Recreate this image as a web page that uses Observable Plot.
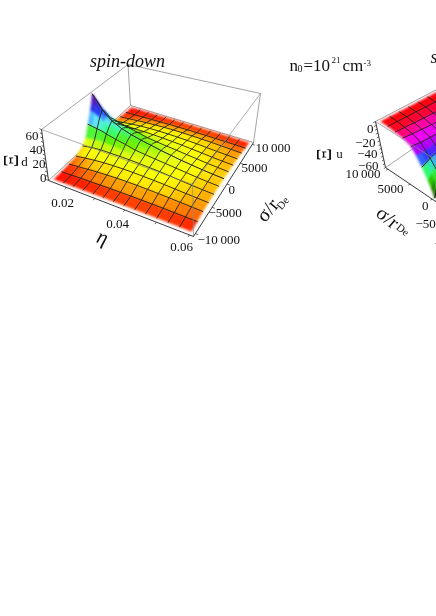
<!DOCTYPE html>
<html><head><meta charset="utf-8">
<style>html,body{margin:0;padding:0;background:#fff;overflow:hidden}svg{display:block}</style>
<script src="https://cdn.jsdelivr.net/npm/d3@7"></script>
<script src="https://cdn.jsdelivr.net/npm/@observablehq/plot@0.6"></script>
</head><body><div id="c"></div>
<script>
// Grid positions on which the surfaces are read: mesh index along eta (0-13), and |sigma| index from centre (0-6)
const etaPos = [0,.5,1,1.5,2,3,4,5,6,7,8,9,10,11,12,13];
const sigPos = [0,.25,.5,1,1.5,2,3,4,5,6];
const etaCells = 13, sigCells = 12;
// Xi_d (spin-down); one row per etaPos, one column per sigPos
const xiDown = [
[60,50,42,28,14,8,3.2,1.6,.55,.3],
[52,46,40,27,15,9,4,2,.7,.35],
[43,40,36,26,16,10,4.8,2.6,.9,.4],
[37,35,32,25,16.5,10.5,5.5,3,1.1,.5],
[32,31,28.5,23,16,11,6.2,3.6,1.3,.55],
[26,25,23.5,20,15,11,7.2,4.5,1.6,.65],
[22,21.5,20.5,17.5,14,11,7.8,5.1,1.9,.8],
[19,18.5,17.5,14.5,12.5,10.8,8,5.6,2.2,.9],
[16.5,16.2,15.5,13,11.5,10.3,8,5.8,2.3,1],
[14,13.8,13.2,11.6,10.6,9.7,7.7,5.8,2.4,1],
[12,11.9,11.5,10.4,9.7,9,7.3,5.6,2.4,1],
[10,9.9,9.7,9,8.5,8,6.8,5.3,2.4,1],
[8.5,8.4,8.3,7.8,7.4,7,6,4.9,2.3,1],
[7,6.9,6.8,6.5,6.2,5.9,5.2,4.3,2.1,.9],
[5.9,5.8,5.8,5.6,5.4,5.1,4.6,3.8,1.9,.8],
[5,4.9,4.9,4.7,4.6,4.4,3.9,3.2,1.6,.7]
];
// Xi_u (spin-up)
const xiUp = [
[-60,-50,-42,-28,-17,-8.5,-3.8,-2,-.6,-.2],
[-48,-43,-37,-26,-17,-9,-4.2,-2.2,-.6,-.2],
[-38,-35,-31,-23,-16.5,-9.5,-4.6,-2.4,-.7,-.2],
[-32,-30,-27,-21,-16,-9.5,-4.9,-2.6,-.7,-.2],
[-27,-25.5,-24,-19,-14,-9.5,-5.2,-2.8,-.8,-.3],
[-20,-19.5,-18.5,-15,-12.5,-9,-5.5,-3,-.8,-.3],
[-16,-15.7,-15,-12.5,-11.5,-8.5,-5.5,-3.2,-.9,-.3],
[-13,-12.8,-12.4,-11,-10.5,-8,-5.5,-3.3,-.9,-.3],
[-11,-10.8,-10.4,-9.5,-9.5,-7.5,-5.3,-3.4,-1,-.4],
[-9.5,-9.4,-9.2,-8.5,-8.9,-7,-5.1,-3.4,-1,-.4],
[-8.4,-8.3,-8.2,-7.7,-8.3,-6.5,-4.9,-3.4,-1,-.4],
[-7.5,-7.4,-7.3,-7,-7.8,-6,-4.7,-3.3,-1,-.4],
[-6.8,-6.7,-6.6,-6.3,-7.2,-5.6,-4.5,-3.2,-1,-.4],
[-6.2,-6.1,-6,-5.8,-6.8,-5.2,-4.2,-3.1,-1,-.4],
[-5.7,-5.6,-5.6,-5.4,-6.4,-4.9,-4,-3,-1,-.4],
[-5.3,-5.2,-5.2,-5,-6,-4.6,-3.8,-2.9,-1,-.4]
];
const colorStops = [-60,-50,-40,-32,-26,-20,-14,-7,-4,-1.5,0,1,2,3.5,5.5,7.5,12,18,26,32,40,50,60];
const colorRange = ["#502000","#208000","#30e000","#30ff80","#30c0ff","#3030ff","#a000ff","#f000f0","#ff00a0","#ff0020","#ff0000","#ff2000","#ff5000","#ff9000","#ffd000","#ffff00","#e0ff10","#60f000","#30ff90","#60e8ff","#2040ff","#4020c0","#a00090"];
// eta / sigma / Xi ticks
const etaMin = 0.0135, etaMax = 0.0612;
const etaMajor = [.02,.03,.04,.05,.06];
const sigmaMajor = [-10000,-5000,0,5000,10000];
const zMajor = [0,20,40,60];
const zMinor = [5,10,15,25,30,35,45,50,55];
const zMajorUp = [0,-20,-40,-60];
const zMinorUp = [-5,-10,-15,-25,-30,-35,-45,-50,-55];

// Box corners in the picture plane: eta-lo/sigma-lo, eta-hi/sigma-lo, eta-hi/sigma-hi, eta-lo/sigma-hi
const boxDown = {bottom:[[48,180],[193,236],[253,142],[130,105]], top:[[41,129],[192,184],[260,93],[127.5,64]], zLo:0, zHi:60};
const boxUp = {bottom:[[478,230],[620,165],[505,85],[385,167]], top:[[472,183],[625,110],[507,52],[375,121]], zLo:-60, zHi:0};

function homography(q){
  const [[x0,y0],[x1,y1],[x2,y2],[x3,y3]] = q;
  const dx1=x1-x2,dx2=x3-x2,sx=x0-x1+x2-x3,dy1=y1-y2,dy2=y3-y2,sy=y0-y1+y2-y3;
  const den=dx1*dy2-dx2*dy1, g=(sx*dy2-dx2*sy)/den, h=(dx1*sy-sx*dy1)/den;
  const a=x1-x0+g*x1,b=x3-x0+h*x3,d=y1-y0+g*y1,e=y3-y0+h*y3;
  return (u,v)=>{const w=g*u+h*v+1;return [(a*u+b*v+x0)/w,(d*u+e*v+y0)/w];};
}
function projector(box){
  const B=homography(box.bottom),T=homography(box.top);
  return (u,v,w)=>{const p=B(u,v),q=T(u,v);return [p[0]+(q[0]-p[0])*w,p[1]+(q[1]-p[1])*w];};
}
const pad=.025;
function buildSurface(table,box,etaDesc){
  const P=projector(box);
  const mid=sigCells/2;
  const sigIdx=[...sigPos.slice(1).reverse().map(d=>[mid-d,sigPos.indexOf(d)]),...sigPos.map((d,k)=>[mid+d,k])];
  const node=(i,s)=>{
    const z=table[i][sigIdx[s][1]];
    const u=pad+(1-2*pad)*etaPos[i]/etaCells, v=pad+(1-2*pad)*sigIdx[s][0]/sigCells, w=(z-box.zLo)/(box.zHi-box.zLo);
    const [x,y]=P(u,v,w); return {x,y,z};
  };
  const centre=sigPos.length-1;
  const cells=[[],[]], lines=[[],[]];
  let id=0;
  const rows=d3.range(etaPos.length-1); if(etaDesc) rows.reverse();
  [[centre,sigIdx.length-1,0],[0,centre,1]].forEach(([s0,s1,layer])=>{
    for(const i of rows) for(let s=s1-1;s>=s0;s--){
      const q=[node(i,s),node(i+1,s),node(i+1,s+1),node(i,s+1)];
      const val=d3.mean(q,p=>p.z); id++;
      q.forEach(p=>cells[layer].push({x:p.x,y:p.y,id,val}));
    }
    etaPos.forEach((e,i)=>{ if(Number.isInteger(e)&&e>0&&e<etaCells){ id++; for(let s=s0;s<=s1;s++){const n=node(i,s);lines[layer].push({x:n.x,y:n.y,id});}}});
    for(let s=s0;s<=s1;s++){const j=sigIdx[s][0]; if(Number.isInteger(j)&&j>0&&j<sigCells){ id++; etaPos.forEach((e,i)=>{const n=node(i,s);lines[layer].push({x:n.x,y:n.y,id});});}}
  });
  return {cells,lines};
}
const edge=(box,a,b)=>{const c=(k)=>k<4?box.bottom[k]:box.top[k-4];return {x1:c(a)[0],y1:c(a)[1],x2:c(b)[0],y2:c(b)[1]};};
const uOf=e=>(e-etaMin)/(etaMax-etaMin), vOf=s=>pad+(1-2*pad)*(s+10000)/20000;
function ticks(box,zs,zAxisCorner,etaV,sigU,len){
  const P=projector(box),out=[];
  const add=(a,b)=>out.push({x1:a[0],y1:a[1],x2:b[0],y2:b[1]});
  const [cu,cv]=zAxisCorner;
  zs.forEach(z=>{const w=(z-box.zLo)/(box.zHi-box.zLo);add(P(cu,cv,w),P(cu+(cu?len:-len),cv,w));});
  etaMajor.forEach(e=>add(P(uOf(e),etaV,0),P(uOf(e),etaV-len,0)));
  sigmaMajor.forEach(s=>add(P(sigU,vOf(s),0),P(sigU+(sigU?len:-len),vOf(s),0)));
  return out;
}
const down=buildSurface(xiDown,boxDown,false);
const up=buildSurface(xiUp,boxUp,true);
const boxBack=[edge(boxDown,3,7),edge(boxDown,7,4),edge(boxDown,7,6),edge(boxDown,0,3),edge(boxDown,3,2),edge(boxDown,2,6),
               edge(boxUp,2,6),edge(boxUp,6,7),edge(boxUp,3,2),edge(boxUp,2,1),edge(boxUp,6,5)];
const boxFront=[edge(boxDown,4,5),edge(boxDown,5,6),edge(boxDown,1,5),edge(boxUp,7,4),edge(boxUp,4,5),edge(boxUp,0,4)];
const axes=[edge(boxDown,0,4),edge(boxDown,0,1),edge(boxDown,1,2),edge(boxUp,3,7),edge(boxUp,3,0),edge(boxUp,0,1)];
const tickMarks=[...ticks(boxDown,[...zMajor,...zMinor],[0,0],0,1,.018),...ticks(boxUp,[...zMajorUp,...zMinorUp],[0,1],0,0,.018)];

// Text labels: [text, x, y, size, anchor, rotate, style]
const fmt=v=>(v<0?"\u2212":"")+(Math.abs(v)>=10000?d3.format(",")(Math.abs(v)).replace(",","\u2009"):String(Math.abs(v)));
const labels=[
 ["spin-down",127,66,18,"middle",0,"italic"],
 ["spin-up",430,62,18,"start",0,"italic"],
 ["n",289,70,17,"start",0,"normal"],["0",297,71,10,"start",0,"normal"],["=10",303,70,17,"start",0,"normal"],["21",331,62,9,"start",0,"normal"],
 ["cm",342,70,17,"start",0,"normal"],["-3",363,65,9,"start",0,"normal"],
 [String(zMajor[3]),38,139,13,"end",0,"normal"],[String(zMajor[2]),42,153,13,"end",0,"normal"],[String(zMajor[1]),45,167,13,"end",0,"normal"],[String(zMajor[0]),46,181,13,"end",0,"normal"],
 ["\u039E",17,160,20,"middle",-90,"normal"],["d",24,165,13,"middle",0,"normal"],
 [etaMajor[0].toFixed(2),62,206,13,"middle",0,"normal"],[etaMajor[2].toFixed(2),117,227,13,"middle",0,"normal"],[etaMajor[4].toFixed(2),181,250,13,"middle",0,"normal"],
 ["\u03B7",100,243,21,"middle",18,"italic"],
 [fmt(sigmaMajor[4]),255,151,13,"start",0,"normal"],[fmt(sigmaMajor[3]),241,171,13,"start",0,"normal"],[fmt(sigmaMajor[2]),228,193,13,"start",0,"normal"],
 [fmt(sigmaMajor[1]),208,216,13,"start",0,"normal"],[fmt(sigmaMajor[0]),197,243,13,"start",0,"normal"],
 ["\u03C3/r",272,214,20,"middle",-50,"normal"],["De",285,205,11,"middle",-50,"normal"],
 [String(zMajorUp[0]),373,132,13,"end",0,"normal"],[fmt(zMajorUp[1]),375,146,13,"end",0,"normal"],[fmt(zMajorUp[2]),377,157,13,"end",0,"normal"],[fmt(zMajorUp[3]),378,169,13,"end",0,"normal"],
 ["\u039E",330,154,20,"middle",-90,"normal"],["u",339,157,13,"middle",0,"normal"],
 [fmt(sigmaMajor[4]),380,177,13,"end",0,"normal"],[fmt(sigmaMajor[3]),403,192,13,"end",0,"normal"],[fmt(sigmaMajor[2]),428,209,13,"end",0,"normal"],
 [fmt(sigmaMajor[1]),415,227,13,"start",0,"normal"],[fmt(sigmaMajor[0]),434,247,13,"start",0,"normal"],
 ["\u03C3/r",383,222,20,"middle",40,"normal"],["De",400,232,11,"middle",40,"normal"]
];
const textMarks=d3.groups(labels,d=>d.slice(3,7).join("|")).map(([k,rows])=>{
  const [size,anchor,rot,style]=[rows[0][3],rows[0][4],rows[0][5],rows[0][6]];
  return Plot.text(rows,{x:d=>d[1],y:d=>d[2],text:d=>d[0],fontSize:size,textAnchor:anchor,rotate:rot,fontStyle:style,fill:"#111",lineAnchor:"bottom",imageFilter:"blur(0.25px)"});
});
const fillMark=(data)=>Plot.line(data,{x:"x",y:"y",z:"id",fill:"val",stroke:"val",strokeWidth:.5,curve:"linear-closed",imageFilter:"blur(1px)"});
const meshMark=(data)=>Plot.line(data,{x:"x",y:"y",z:"id",stroke:"#222218",strokeWidth:1,strokeOpacity:.9,imageFilter:"blur(0.3px)"});
const link=(data,stroke,w)=>Plot.link(data,{x1:"x1",y1:"y1",x2:"x2",y2:"y2",stroke,strokeWidth:w});

const chart=Plot.plot({
  width:436,height:616,margin:0,
  style:{background:"#fff",fontFamily:"'Liberation Serif',serif",overflow:"hidden"},
  x:{domain:[0,436],range:[0,436],axis:null},
  y:{domain:[0,616],range:[0,616],axis:null},
  color:{type:"linear",domain:colorStops,range:colorRange,interpolate:"rgb",clamp:true},
  marks:[
    link(boxBack,"#9a9a9a",.9),
    fillMark(down.cells[0]),meshMark(down.lines[0]),fillMark(down.cells[1]),meshMark(down.lines[1]),
    fillMark(up.cells[0]),meshMark(up.lines[0]),fillMark(up.cells[1]),meshMark(up.lines[1]),
    link(boxFront,"#8a8a8a",.7),
    link(axes,"#222",.9),
    link(tickMarks,"#222",.7),
    ...textMarks
  ]
});
document.getElementById("c").appendChild(chart);
</script></body></html>
